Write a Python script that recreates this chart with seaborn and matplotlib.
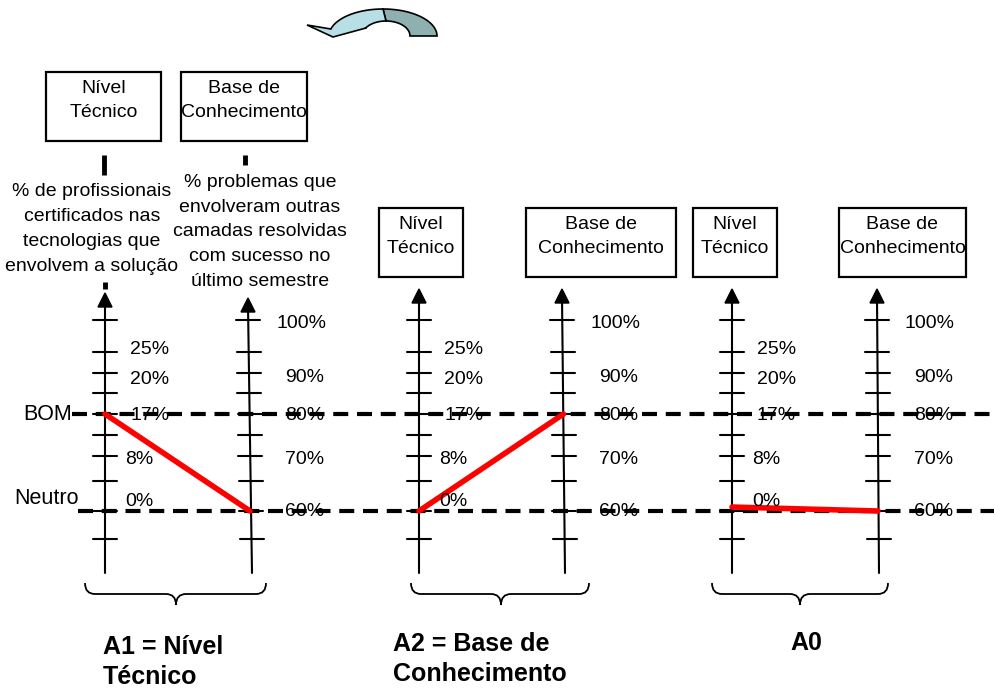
import numpy as np
import pandas as pd
import matplotlib.pyplot as plt
from matplotlib.patches import Rectangle, Polygon, PathPatch
from matplotlib.path import Path
import seaborn as sns

# values
groups = ["A1 = Nível\nTécnico", "A2 = Base de\nConhecimento", "A0"]
nivel_levels = [0, 8, 17, 20, 25]          # % profissionais certificados
base_levels = [60, 70, 80, 90, 100]        # % problemas resolvidos
nivel_labels = ["0%", "8%", "17%", "20%", "25%"]
base_labels = ["60%", "70%", "80%", "90%", "100%"]
nivel_values = [17, 0, 0.6]
base_values = [60, 80, 60]
bom_nivel, neutro_nivel = 17, 0

desc_nivel = "% de profissionais\ncertificados nas\ntecnologias que\nenvolvem a solução"
desc_base = "% problemas que\nenvolveram outras\ncamadas resolvidas\ncom sucesso no\núltimo semestre"

# layout (pixels)
nivel_y = [511, 458, 414, 378, 348]
base_y = [511, 458, 414, 376, 323]
tick_y = [320, 352, 373, 393, 414, 435, 456, 481, 511, 539]
left_x = [105, 419, 732]
right_x = [(248, 252), (562, 565), (877, 879)]
arrow_tip = [(293, 298), (289, 289), (289, 289)]
axis_bottom = 573
braces = [(85, 266, 176), (411, 589, 501), (712, 888, 800)]
group_label_pos = [(103, 662), (393, 659), (790, 643)]

font = ["Liberation Sans", "DejaVu Sans"]
FS = 14

sns.set_theme(style="white")
plt.rcParams["font.family"] = font
plt.rcParams["text.color"] = "black"

fig = plt.figure(figsize=(9.95, 6.88), dpi=100)
ax = fig.add_axes([0, 0, 1, 1])


def ny(v):
    return np.interp(v, nivel_levels, nivel_y)


def by(v):
    return np.interp(v, base_levels, base_y)


def box(x0, x1, y0, y1, text):
    ax.add_patch(Rectangle((x0, y0), x1 - x0, y1 - y0, fill=False, ec="black", lw=1.6))
    ax.text((x0 + x1) / 2, (y0 + y1) / 2 - 6, text, ha="center", va="center",
            fontsize=FS, linespacing=1.55)


def vaxis(xt, xb, tip):
    ax.plot([xt, xb], [tip + 8, axis_bottom], color="black", lw=1.5)
    ax.add_patch(Polygon([(xt - 7, tip + 14), (xt + 7, tip + 14), (xt, tip)],
                         closed=True, color="black"))
    for t in tick_y:
        xc = xt + (xb - xt) * (t - tip) / (axis_bottom - tip)
        ax.plot([xc - 12, xc + 12], [t, t], color="black", lw=1.5)


def brace(x0, x1, xc, top=583, mid=594, tip=605):
    r = 10
    verts = [(x0, top), (x0, mid), (x0 + r, mid), (xc - r, mid), (xc, mid), (xc, tip),
             (xc, mid), (xc + r, mid), (x1 - r, mid), (x1, mid), (x1, top)]
    codes = [Path.MOVETO, Path.CURVE3, Path.CURVE3, Path.LINETO, Path.CURVE3, Path.CURVE3,
             Path.CURVE3, Path.CURVE3, Path.LINETO, Path.CURVE3, Path.CURVE3]
    ax.add_patch(PathPatch(Path(verts, codes), fill=False, ec="black", lw=1.3))


# curved arrow at top
def outer(t):
    return np.c_[383 + 54 * np.cos(t), 36 - 27 * np.sin(t)]


def inner(t):
    return np.c_[386 + 24 * np.cos(t), 36 - 15 * np.sin(t)]


t_dark = np.linspace(0, np.pi / 2, 30)
dark = np.vstack([outer(t_dark), inner(t_dark[::-1])])
t_out = np.linspace(np.pi / 2, np.radians(165), 30)
t_in = np.linspace(np.pi / 2, np.radians(150), 30)
light = np.vstack([outer(t_out), [(307, 25), (333, 37), (366, 28)], inner(t_in[::-1])])
ax.add_patch(Polygon(dark, closed=True, fc="#8fb0b1", ec="black", lw=1.2))
ax.add_patch(Polygon(light, closed=True, fc="#b9dfe6", ec="black", lw=1.2))

# boxes
box(46, 161, 72, 141, "Nível\nTécnico")
box(181, 307, 72, 141, "Base de\nConhecimento")
for x0, x1 in [(379, 463), (693, 777)]:
    box(x0, x1, 208, 277, "Nível\nTécnico")
for x0, x1 in [(526, 676), (839, 966)]:
    box(x0, x1, 208, 277, "Base de\nConhecimento")

# short connectors under the first boxes
ax.plot([104, 104], [155, 175], color="black", lw=3.5, solid_capstyle="butt")
ax.plot([245, 245], [155, 165], color="black", lw=3.5, solid_capstyle="butt")
ax.plot([105, 105], [282, 289], color="black", lw=3.5, solid_capstyle="butt")

# descriptions
t = ax.text(92, 229, desc_nivel, ha="center", va="center", fontsize=FS, linespacing=1.6)
t.set_clip_path(Rectangle((0, 0), 171, 688, transform=ax.transData))
ax.text(260, 232, desc_base, ha="center", va="center", fontsize=FS, linespacing=1.6)

# axes with ticks and labels
for i in range(3):
    vaxis(left_x[i], left_x[i], arrow_tip[i][0])
    vaxis(right_x[i][0], right_x[i][1], arrow_tip[i][1])
    for lv, lab in zip(nivel_levels, nivel_labels):
        dx = 20 if len(lab) == 2 else 25
        dy = -10 if lv == 0 else 2
        ax.text(left_x[i] + dx, ny(lv) + dy, lab, ha="left", va="center", fontsize=FS)
    for lv, lab in zip(base_levels, base_labels):
        dx = 28 if len(lab) == 4 else 37
        ax.text(right_x[i][0] + dx, by(lv) + 1, lab, ha="left", va="center", fontsize=FS)

# BOM / Neutro reference lines
ax.plot([72, 995], [ny(bom_nivel)] * 2, color="black", lw=3, dashes=(3.6, 2.1))
ax.plot([78, 995], [ny(neutro_nivel)] * 2, color="black", lw=3, dashes=(3.6, 2.1))
ax.text(72, ny(bom_nivel), "BOM", ha="right", va="center", fontsize=15.5)
ax.text(14, ny(neutro_nivel) - 13, "Neutro", ha="left", va="center", fontsize=15.5)

# red profile lines
rows = []
for g, nv, bv, lx, rx in zip(groups, nivel_values, base_values, left_x, right_x):
    rows.append({"group": g, "x": lx, "y": ny(nv)})
    rows.append({"group": g, "x": (rx[0] + rx[1]) / 2, "y": by(bv)})
df = pd.DataFrame(rows)
sns.lineplot(data=df, x="x", y="y", units="group", estimator=None, sort=False,
             color="red", lw=4, ax=ax, legend=False)

# braces and group names
for (x0, x1, xc), g, (gx, gy) in zip(braces, groups, group_label_pos):
    brace(x0, x1, xc)
    ax.text(gx, gy, g, ha="left", va="center", fontsize=18, fontweight="bold",
            linespacing=1.3)

ax.set_xlim(0, 995)
ax.set_ylim(688, 0)
ax.axis("off")
fig.savefig("out.png", dpi=100)
